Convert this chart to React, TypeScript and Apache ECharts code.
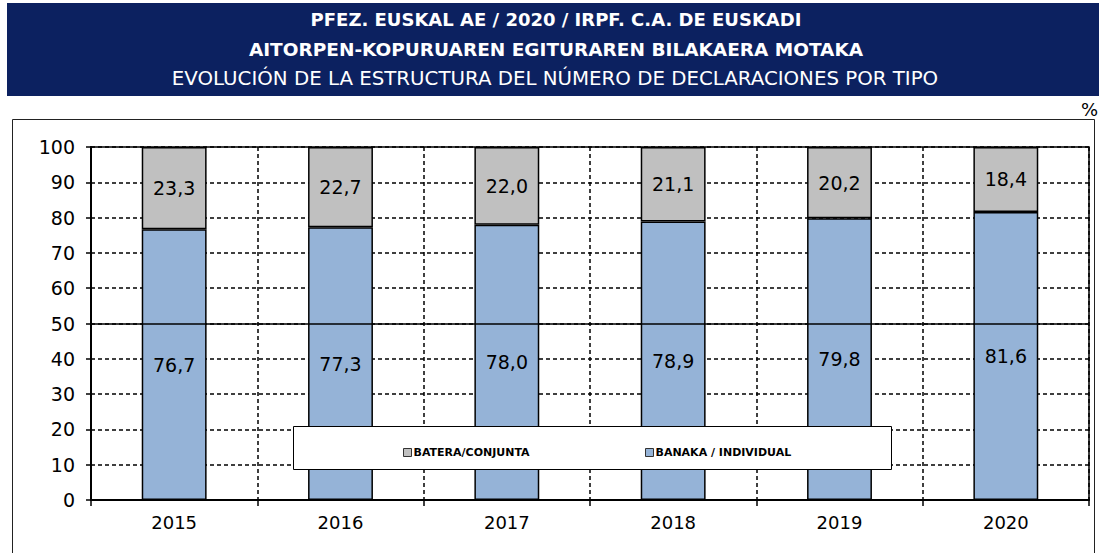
import React, { useEffect, useRef } from "react";
import * as echarts from "echarts";

const years = ["2015", "2016", "2017", "2018", "2019", "2020"];
const individual = [76.7, 77.3, 78.0, 78.9, 79.8, 81.6];
const joint = [23.3, 22.7, 22.0, 21.1, 20.2, 18.4];
const titleLines = [
  "PFEZ. EUSKAL AE / 2020 / IRPF. C.A. DE EUSKADI",
  "AITORPEN-KOPURUAREN EGITURAREN BILAKAERA MOTAKA",
  "EVOLUCIÓN DE LA ESTRUCTURA DEL NÚMERO DE DECLARACIONES POR TIPO",
];
const nameJoint = "BATERA/CONJUNTA";
const nameIndiv = "BANAKA / INDIVIDUAL";

const FONT = "DejaVu Sans, Verdana, sans-serif";

export default function App() {
  const ref = useRef<HTMLDivElement>(null);
  useEffect(() => {
    const chart = echarts.init(ref.current!, null, { renderer: "svg" });
    const fmt = (p: any) => Number(p.value).toFixed(1).replace(".", ",");
    const legendText = {
      fontFamily: FONT,
      fontSize: 11,
      fontWeight: "bold" as const,
      color: "#000",
      padding: [0, 0, 0, -3],
    };
    chart.setOption({
      animation: false,
      backgroundColor: "#fff",
      graphic: [
        { type: "rect", shape: { x: 7, y: 3, width: 1092, height: 93 }, style: { fill: "#0c2160" }, z: 0 },
        { type: "text", x: 556, y: 19, style: { text: titleLines[0], fill: "#fff", font: `bold 18px ${FONT}`, align: "center", verticalAlign: "middle" } },
        { type: "text", x: 556, y: 49, style: { text: titleLines[1], fill: "#fff", font: `bold 18.5px ${FONT}`, align: "center", verticalAlign: "middle" } },
        { type: "text", x: 555, y: 78, style: { text: titleLines[2], fill: "#fff", font: `19.8px ${FONT}`, align: "center", verticalAlign: "middle" } },
        { type: "text", x: 1098, y: 109, style: { text: "%", fill: "#000", font: `18px ${FONT}`, align: "right", verticalAlign: "middle" } },
        { type: "rect", shape: { x: 12.5, y: 119.5, width: 1082, height: 450 }, style: { fill: "none", stroke: "#222", lineWidth: 1 }, z: 0 },
        { type: "rect", shape: { x: 293.5, y: 426.5, width: 598, height: 43 }, style: { fill: "#fff", stroke: "#000", lineWidth: 1 }, z: 10 },
      ],
      legend: [
        {
          data: [nameJoint],
          left: 403,
          top: 447,
          icon: "rect",
          itemWidth: 8,
          itemHeight: 8,
          padding: 0,
          itemStyle: { borderColor: "#333", borderWidth: 1 },
          textStyle: legendText,
          z: 20,
        },
        {
          data: [nameIndiv],
          left: 645,
          top: 447,
          icon: "rect",
          itemWidth: 8,
          itemHeight: 8,
          padding: 0,
          itemStyle: { borderColor: "#333", borderWidth: 1 },
          textStyle: legendText,
          z: 20,
        },
      ],
      grid: {
        left: 91,
        right: 10,
        top: 147,
        bottom: 53,
        show: true,
        borderColor: "#000",
        borderWidth: 1.5,
        backgroundColor: "transparent",
      },
      xAxis: {
        type: "category",
        data: years,
        axisLine: { lineStyle: { color: "#000", width: 2 } },
        axisTick: { show: true, length: 6, lineStyle: { color: "#000", width: 1.5 } },
        axisLabel: { fontFamily: FONT, fontSize: 18, color: "#000", margin: 13 },
        splitLine: { show: true, lineStyle: { color: "#000", type: [4, 3], width: 1.5 } },
      },
      yAxis: {
        type: "value",
        min: 0,
        max: 100,
        interval: 10,
        axisLine: { show: true, lineStyle: { color: "#000", width: 2 } },
        axisTick: { show: true, length: 5, lineStyle: { color: "#000", width: 1.5 } },
        axisLabel: { fontFamily: FONT, fontSize: 19, color: "#000", margin: 16 },
        splitLine: { show: true, lineStyle: { color: "#000", type: [4, 3], width: 1.5 } },
      },
      series: [
        {
          name: nameIndiv,
          type: "bar",
          stack: "total",
          data: individual,
          barWidth: "39%",
          itemStyle: { color: "#95b3d7", borderColor: "#000", borderWidth: 1.5 },
          label: { show: true, position: "inside", formatter: fmt, fontFamily: FONT, fontSize: 19, color: "#000" },
          markLine: {
            silent: true,
            symbol: "none",
            label: { show: false },
            lineStyle: { color: "#000", type: "solid", width: 1.5 },
            data: [{ yAxis: 50 }],
            z: 5,
          },
        },
        {
          name: nameJoint,
          type: "bar",
          stack: "total",
          data: joint,
          barWidth: "39%",
          itemStyle: { color: "#c0c0c0", borderColor: "#000", borderWidth: 1.5 },
          label: { show: true, position: "inside", formatter: fmt, fontFamily: FONT, fontSize: 19, color: "#000" },
        },
      ],
    });
    return () => chart.dispose();
  }, []);
  return (
    <div
      ref={ref}
      style={{ position: "absolute", left: 0, top: 0, width: 1099, height: 553 }}
    />
  );
}
